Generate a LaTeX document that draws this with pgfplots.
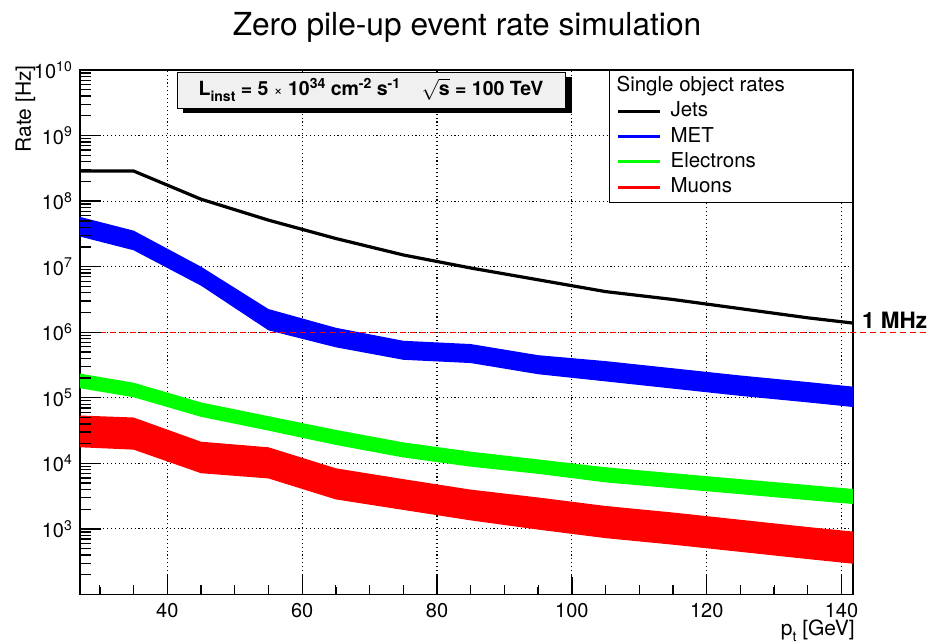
\documentclass[border=0pt]{standalone}
\usepackage{fontspec}
\setmainfont{TeX Gyre Heros}
\usepackage{graphicx}
\usepackage{pgfplots}
\pgfplotsset{compat=1.18}

\definecolor{rblue}{RGB}{0,0,255}
\definecolor{rgreen}{RGB}{0,255,0}
\definecolor{rred}{RGB}{255,0,0}
\definecolor{rgray}{RGB}{240,240,240}

\newcommand\sups[1]{\raisebox{0.37em}{\fontsize{14}{14}\selectfont #1}}
\newcommand\subs[1]{\raisebox{-0.3em}{\fontsize{14}{14}\selectfont #1}}

\begin{document}
\begin{tikzpicture}
\path[use as bounding box] (-80pt,-48.5pt) rectangle (848pt,594.5pt);
\begin{axis}[
  at={(0pt,0pt)}, anchor=south west,
  scale only axis, width=773pt, height=524.5pt,
  ymode=log, log basis y=10,
  xmin=27.05, xmax=141.7, ymin=1e2, ymax=1e10,
  clip=false,
  axis line style={line width=1.2pt},
  tick align=inside, xtick pos=left, ytick pos=left,
  major tick length=20pt, minor tick length=10pt,
  tick style={black, line width=1.2pt},
  xtick={40,60,80,100,120,140},
  minor xtick={30,35,45,50,55,65,70,75,85,90,95,105,110,115,125,130,135},
  ytick={1e3,1e4,1e5,1e6,1e7,1e8,1e9,1e10},
  yticklabels={10\sups{3},10\sups{4},10\sups{5},10\sups{6},10\sups{7},10\sups{8},10\sups{9},10\sups{10}},
  xmajorgrids, ymajorgrids,
  major grid style={black, line width=1.1pt, dash pattern=on 1.1pt off 2.8pt},
  /pgf/number format/assume math mode=true,
  tick label style={font=\fontsize{20}{24}\selectfont},
  xticklabel style={anchor=north, inner sep=0pt, yshift=-8.5pt},
  yticklabel style={anchor=east, inner sep=0pt, xshift=-8pt},
  legend style={at={(1,1)}, anchor=north east, draw=black, line width=0.8pt,
    fill=white, inner xsep=6pt, inner ysep=6pt, row sep=6.3pt, column sep=9pt,
    font=\fontsize{20.5}{24}\selectfont,
    nodes={inner sep=0pt, text height=15pt, text depth=4pt}},
  legend cell align=left,
  legend image code/.code={\draw[#1] (3pt,0pt) -- (45pt,0pt);},
]
% Electrons band: upper edge left to right, then lower edge right to left
\addplot[fill=rgreen, draw=none, forget plot] coordinates {
 (27.05,2.34e5) (35,1.70e5) (45,8.51e4) (55,5.25e4) (65,3.24e4) (75,2.09e4) (85,1.51e4)
 (95,1.15e4) (105,8.71e3) (115,7.08e3) (125,5.75e3) (135,4.68e3) (141.7,4.07e3)
 (141.7,2.40e3) (135,2.75e3) (125,3.39e3) (115,4.17e3) (105,5.13e3) (95,6.92e3)
 (85,8.91e3) (75,1.23e4) (65,1.91e4) (55,3.16e4) (45,5.13e4) (35,1.02e5) (27.05,1.40e5)
} -- cycle;
% Muons band
\addplot[fill=rred, draw=none, forget plot] coordinates {
 (27.05,5.37e4) (35,5.01e4) (45,2.14e4) (55,1.76e4) (65,8.41e3) (75,5.75e3) (85,3.98e3)
 (95,3.02e3) (105,2.24e3) (115,1.78e3) (125,1.38e3) (135,1.07e3) (141.7,912)
 (141.7,295) (135,347) (125,447) (115,575) (105,724) (95,977)
 (85,1.35e3) (75,1.95e3) (65,2.82e3) (55,5.89e3) (45,7.08e3) (35,1.62e4) (27.05,1.76e4)
} -- cycle;
% MET band
\addplot[fill=rblue, draw=none, forget plot] coordinates {
 (27.05,5.75e7) (35,3.55e7) (45,1.0e7) (55,2.26e6) (65,1.17e6) (75,7.41e5) (85,6.61e5)
 (95,4.47e5) (105,3.63e5) (115,2.82e5) (125,2.19e5) (135,1.74e5) (141.7,1.48e5)
 (141.7,7.24e4) (135,8.51e4) (125,1.07e5) (115,1.38e5) (105,1.78e5) (95,2.29e5)
 (85,3.39e5) (75,3.80e5) (65,5.89e5) (55,1.07e6) (45,5.13e6) (35,1.78e7) (27.05,2.88e7)
} -- cycle;
% 1 MHz line
\addplot[rred, line width=1.5pt, dash pattern=on 6pt off 4pt, forget plot] coordinates {(30,1e6) (152.8,1e6)};
% Jets
\addplot[black, line width=3.2pt, forget plot] coordinates {
 (27.05,2.88e8) (35,2.88e8) (45,1.07e8) (55,5.13e7) (65,2.69e7) (75,1.51e7) (85,9.55e6)
 (95,6.31e6) (105,4.17e6) (115,3.16e6) (125,2.29e6) (135,1.66e6) (141.7,1.38e6)
};
\node[anchor=base west, font=\bfseries\fontsize{22.5}{24}\selectfont, inner sep=0pt] at (axis cs:141.7,1e6) [xshift=9pt, yshift=4pt] {1 MHz};
% legend
\addlegendimage{empty legend}
\addlegendentry{\hspace{-54pt}\makebox[230pt][l]{Single object rates}}
\addlegendimage{black, line width=3pt}
\addlegendentry{Jets}
\addlegendimage{rblue, line width=3pt}
\addlegendentry{MET}
\addlegendimage{rgreen, line width=3pt}
\addlegendentry{Electrons}
\addlegendimage{rred, line width=3pt}
\addlegendentry{Muons}
\end{axis}
% ROOT-style tick marks: inside, on the left and bottom axes only
\foreach \k in {3,...,9} {\draw[black, line width=1.3pt] (0pt,{(\k-2)*65.5625pt}) -- ++(21pt,0pt);}
\foreach \k in {2,...,9} {\foreach \m in {2,...,9} {
  \draw[black, line width=1.3pt] (0pt,{(\k-2+log10(\m))*65.5625pt}) -- ++(11pt,0pt);}}
\foreach \x in {40,60,...,140} {\draw[black, line width=1.3pt] ({(\x-27.05)*6.7423pt},0pt) -- ++(0pt,18pt);}
\foreach \x in {30,35,45,50,55,65,70,75,85,90,95,105,110,115,125,130,135} {
  \draw[black, line width=1.3pt] ({(\x-27.05)*6.7423pt},0pt) -- ++(0pt,8pt);}
% title
\node[anchor=base, font=\fontsize{31.7}{36}\selectfont, inner sep=0pt] at (387pt,558.5pt) {Zero pile-up event rate simulation};
% axis titles
\node[rotate=90, anchor=base east, font=\fontsize{21}{24}\selectfont, inner sep=0pt] at (-49pt,529.5pt) {Rate [Hz]};
\node[anchor=base east, font=\fontsize{21}{24}\selectfont, inner sep=0pt] at (775pt,-41pt) {p\subs{t} [GeV]};
% info box
\fill[black] (103pt,481.5pt) rectangle (492pt,517.5pt);
\filldraw[fill=rgray, draw=black, line width=0.8pt] (97pt,486.5pt) rectangle (485pt,522.5pt);
\node[font=\bfseries\fontsize{19.5}{22}\selectfont, inner sep=0pt] at (291pt,504.5pt)
  {L\subs{inst} = 5 {\mdseries\fontsize{15}{15}\selectfont ×} 10\sups{34} cm\sups{-2} s\sups{-1}\hspace{1.1em}$\sqrt{\mbox{s}}$ = 100 TeV};
\end{tikzpicture}
\end{document}
